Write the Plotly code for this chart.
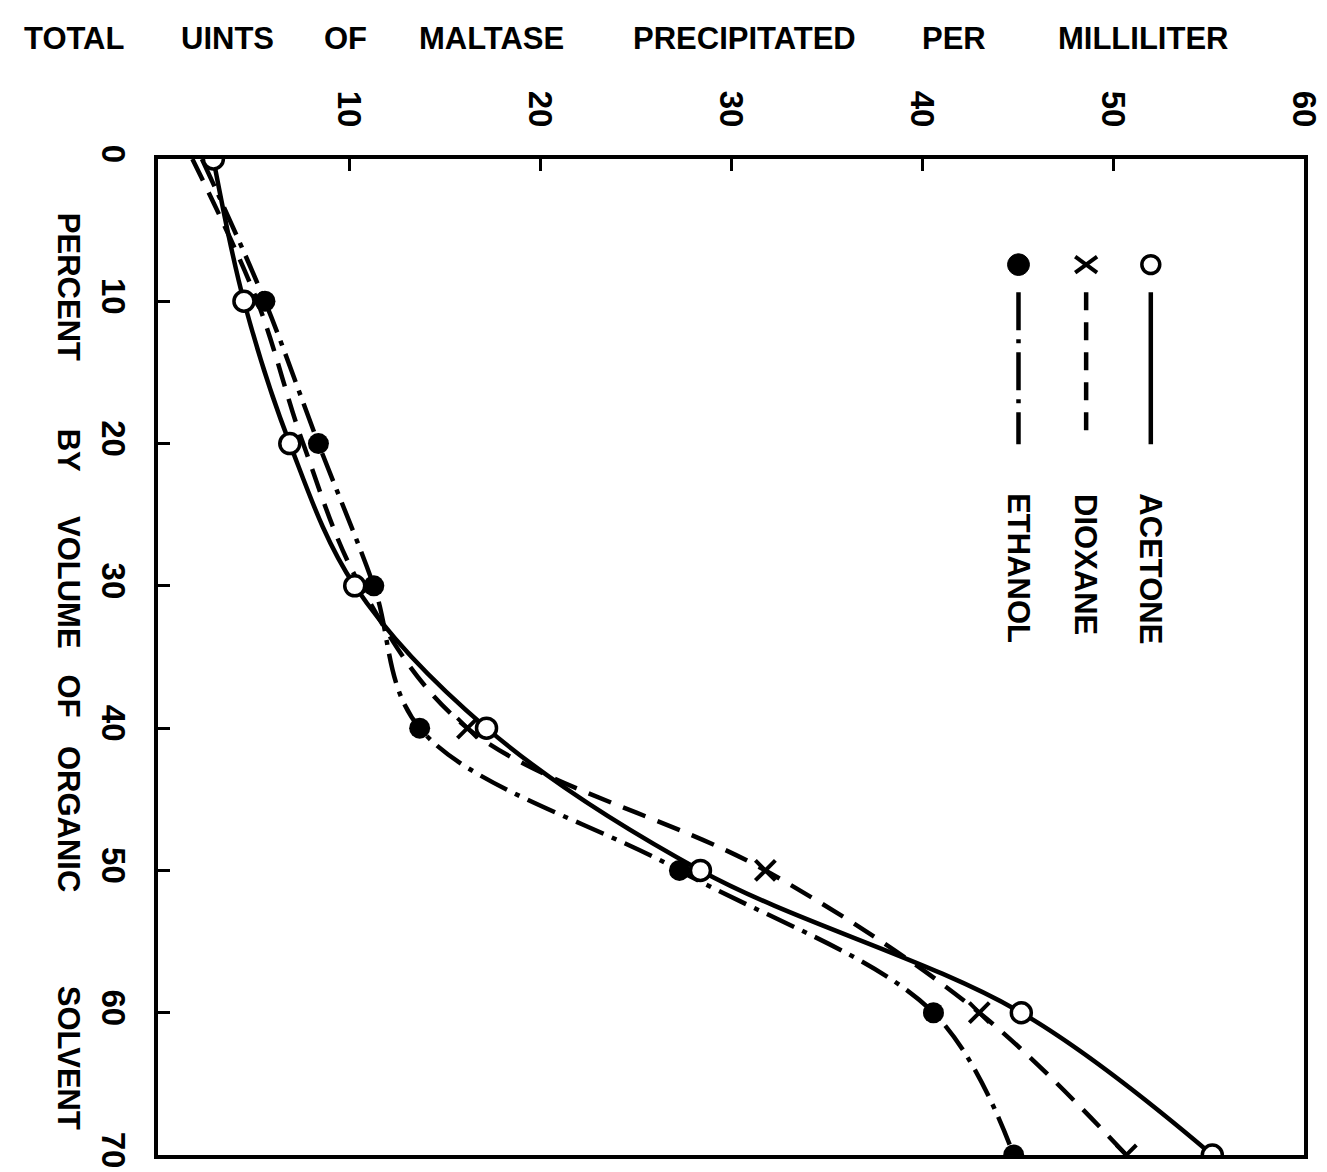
import plotly.graph_objects as go

# Percent by volume of organic solvent
percent = [0, 10, 20, 30, 40, 50, 60, 70]
# Total units of maltase precipitated per milliliter
acetone = [2.9, 4.5, 6.9, 10.3, 17.2, 28.4, 45.2, 55.2]
dioxane = [1.8, 5.2, 7.6, 10.6, 16.2, 31.8, 43.0, 50.7]
ethanol = [2.3, 5.6, 8.4, 11.3, 13.7, 27.3, 40.6, 44.8]
dioxane_marked = [False, False, False, False, True, True, True, True]
ethanol_marked = [False, True, True, True, True, True, True, True]

unit_ticks = [10, 20, 30, 40, 50, 60]
percent_ticks = [0, 10, 20, 30, 40, 50, 60, 70]

FONT = "Liberation Sans, Arial, sans-serif"
LW = 4.5

fig = go.Figure()

# Curves
fig.add_trace(go.Scatter(
    x=acetone, y=percent, mode="lines", line_shape="spline",
    line=dict(color="black", width=LW), name="ACETONE"))
fig.add_trace(go.Scatter(
    x=dioxane, y=percent, mode="lines", line_shape="spline",
    line=dict(color="black", width=LW, dash="24px,13px"), name="DIOXANE"))
fig.add_trace(go.Scatter(
    x=ethanol, y=percent, mode="lines", line_shape="spline",
    line=dict(color="black", width=LW, dash="30px,9px,5px,9px"), name="ETHANOL"))

# Markers
fig.add_trace(go.Scatter(
    x=[v for v, m in zip(dioxane, dioxane_marked) if m],
    y=[p for p, m in zip(percent, dioxane_marked) if m],
    mode="markers", opacity=1,
    marker=dict(symbol="x-thin", size=20, color="black", opacity=1,
                line=dict(color="black", width=4)),
    hoverinfo="skip"))
fig.add_trace(go.Scatter(
    x=[v for v, m in zip(ethanol, ethanol_marked) if m],
    y=[p for p, m in zip(percent, ethanol_marked) if m],
    mode="markers", opacity=1,
    marker=dict(symbol="circle", size=21, color="black", opacity=1,
                line=dict(color="black", width=0)),
    hoverinfo="skip"))
fig.add_trace(go.Scatter(
    x=acetone, y=percent, mode="markers", opacity=1,
    marker=dict(symbol="circle", size=20, color="white", opacity=1,
                line=dict(color="black", width=3.5)),
    hoverinfo="skip"))

# Plot-area geometry in pixels for converting reference positions
L, T, R, B = 150, 151, 1302, 1160
def px(xp):
    return (xp - L) / (R - L)
def py(yp):
    return (B - yp) / (B - T)

shapes = []
annotations = []

# Hand-drawn style legend (rotated), in paper coordinates
legend_items = [
    ("ACETONE", 1148, "solid", "open", 440),
    ("DIOXANE", 1083, "dash", "x", 434),
    ("ETHANOL", 1015, "dashdot", "filled", 440),
]
for label, xpix, dash, mk, yend in legend_items:
    xc = px(xpix)
    shapes.append(dict(type="line", xref="paper", yref="paper",
                       x0=xc, x1=xc, y0=py(286), y1=py(yend),
                       line=dict(color="black", width=LW,
                                 dash={"solid": "solid", "dash": "18px,12px",
                                       "dashdot": "38px,9px,4px,9px"}[dash])))
    if mk == "open":
        shapes.append(dict(type="circle", xref="paper", yref="paper",
                           x0=px(xpix - 9), x1=px(xpix + 9), y0=py(267), y1=py(249),
                           line=dict(color="black", width=3.5), fillcolor="white"))
    elif mk == "filled":
        shapes.append(dict(type="circle", xref="paper", yref="paper",
                           x0=px(xpix - 11), x1=px(xpix + 11), y0=py(269), y1=py(247),
                           line=dict(color="black", width=1), fillcolor="black"))
    else:
        shapes.append(dict(type="line", xref="paper", yref="paper",
                           x0=px(xpix - 11), x1=px(xpix + 11), y0=py(250), y1=py(266),
                           line=dict(color="black", width=4)))
        shapes.append(dict(type="line", xref="paper", yref="paper",
                           x0=px(xpix - 11), x1=px(xpix + 11), y0=py(266), y1=py(250),
                           line=dict(color="black", width=4)))
    annotations.append(dict(text="<b>%s</b>" % label, xref="paper", yref="paper",
                            x=xc, y=py(488), xanchor="center", yanchor="top",
                            textangle=90, showarrow=False,
                            font=dict(family=FONT, size=31, color="black")))

# Top title words
top_words = [("TOTAL", 66), ("UINTS", 220), ("OF", 338), ("MALTASE", 485),
             ("PRECIPITATED", 740), ("PER", 950), ("MILLILITER", 1140)]
for w, xc in top_words:
    annotations.append(dict(text="<b>%s</b>" % w, xref="paper", yref="paper",
                            x=px(xc), y=py(29), xanchor="center", yanchor="middle",
                            showarrow=False,
                            font=dict(family=FONT, size=31, color="black")))

# Left title words (rotated)
left_words = [("PERCENT", 281), ("BY", 446), ("VOLUME", 580), ("OF", 695),
              ("ORGANIC", 820), ("SOLVENT", 1062)]
for w, yc in left_words:
    annotations.append(dict(text="<b>%s</b>" % w, xref="paper", yref="paper",
                            x=px(60), y=py(yc), xanchor="center", yanchor="middle",
                            textangle=90, showarrow=False,
                            font=dict(family=FONT, size=31, color="black")))

tickfont = dict(family="Liberation Sans, Arial, sans-serif", size=33, color="black",
                weight="bold")

fig.update_layout(
    width=1327, height=1172,
    margin=dict(l=L, r=1327 - R, t=T, b=1172 - B, pad=0),
    paper_bgcolor="white", plot_bgcolor="white",
    showlegend=False,
    shapes=shapes, annotations=annotations,
    xaxis=dict(side="top", range=[0, 60], tickvals=unit_ticks,
               ticktext=[str(v) for v in unit_ticks],
               tickangle=90, ticks="inside", ticklen=12, tickwidth=3,
               tickcolor="black", showline=True, linecolor="black", linewidth=4,
               mirror=True, showgrid=False, zeroline=False,
               ticklabelstandoff=16, tickfont=tickfont),
    yaxis=dict(range=[70, 0], tickvals=percent_ticks,
               ticktext=[str(v) for v in percent_ticks],
               tickangle=90, ticks="inside", ticklen=12, tickwidth=3,
               tickcolor="black", showline=True, linecolor="black", linewidth=4,
               mirror=True, showgrid=False, zeroline=False,
               ticklabelstandoff=12, tickfont=tickfont),
)

fig.write_html("out.html")
